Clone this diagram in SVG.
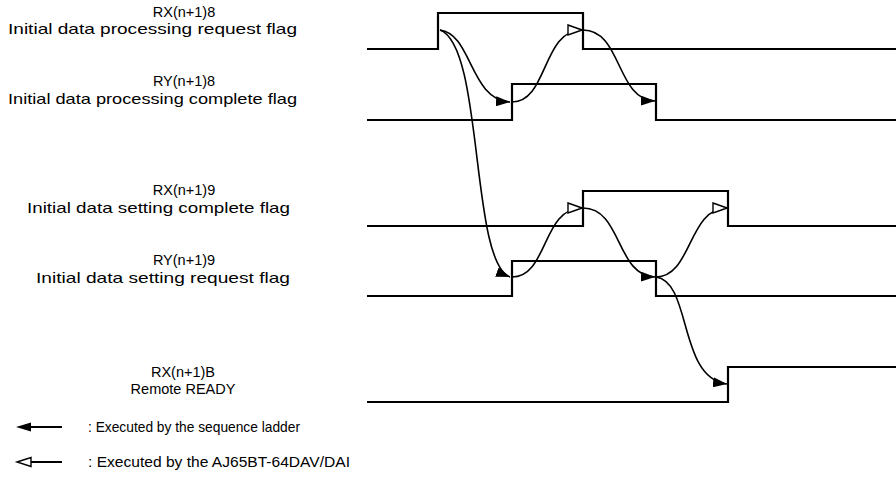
<svg xmlns="http://www.w3.org/2000/svg" width="896" height="501" viewBox="0 0 896 501">
<style>
.t{font-family:"Liberation Sans",Arial,sans-serif;font-size:14.5px;fill:#000;text-anchor:middle}
.w{font-family:"Liberation Sans",Arial,sans-serif;font-size:14.5px;fill:#000}
.l{font-family:"Liberation Sans",Arial,sans-serif;font-size:14.5px;fill:#000}
.sig{fill:none;stroke:#000;stroke-width:2.2}
.c{fill:none;stroke:#000;stroke-width:1.6}
</style>
<defs>
<marker id="s" viewBox="0 0 14 10" refX="14" refY="5" markerWidth="14" markerHeight="10" markerUnits="userSpaceOnUse" orient="auto">
<path d="M0,0 L14,5 L0,10 Z" fill="#000"/>
</marker>
<marker id="o" viewBox="-1 -1 16 12" refX="14" refY="5" markerWidth="16" markerHeight="12" markerUnits="userSpaceOnUse" orient="auto">
<path d="M0,0 L14,5 L0,10 Z" fill="#fff" stroke="#000" stroke-width="1.4"/>
</marker>
</defs>
<g id="label-rx8"><text class="t" x="184" y="17">RX(n+1)8</text><text class="w" x="8" y="34" textLength="289" lengthAdjust="spacingAndGlyphs">Initial data processing request flag</text></g>
<g id="label-ry8"><text class="t" x="184" y="86">RY(n+1)8</text><text class="w" x="8" y="104" textLength="289" lengthAdjust="spacingAndGlyphs">Initial data processing complete flag</text></g>
<g id="label-rx9"><text class="t" x="184" y="195">RX(n+1)9</text><text class="w" x="27" y="213" textLength="263" lengthAdjust="spacingAndGlyphs">Initial data setting complete flag</text></g>
<g id="label-ry9"><text class="t" x="184" y="265">RY(n+1)9</text><text class="w" x="36" y="283" textLength="254" lengthAdjust="spacingAndGlyphs">Initial data setting request flag</text></g>
<g id="label-rxb"><text class="t" x="183" y="377">RX(n+1)B</text><text class="t" x="183" y="394">Remote READY</text></g>
<g id="signals">
<path id="sig-rx8" class="sig" d="M367,49 H438 V13 H583 V49 H896"/>
<path id="sig-ry8" class="sig" d="M367,120 H512 V84 H656 V120 H896"/>
<path id="sig-rx9" class="sig" d="M367,226 H583 V191 H728 V226 H896"/>
<path id="sig-ry9" class="sig" d="M367,296 H512 V261 H656 V296 H896"/>
<path id="sig-rxb" class="sig" d="M367,402 H728 V367 H896"/>
</g>
<g id="connectors">
<path class="c" d="M440,30 C472,34 470,100 510,102" marker-end="url(#s)"/>
<path class="c" d="M512,102 C548,102 542,30 582,30" marker-end="url(#o)"/>
<path class="c" d="M583,30 C622,30 616,100 655,101" marker-end="url(#s)"/>
<path class="c" d="M440,30 C484,46 470,262 510,277" marker-end="url(#s)"/>
<path class="c" d="M512,277 C548,277 542,208 582,208" marker-end="url(#o)"/>
<path class="c" d="M583,208 C622,208 616,276 655,277" marker-end="url(#s)"/>
<path class="c" d="M656,277 C692,277 688,208 727,208" marker-end="url(#o)"/>
<path class="c" d="M656,277 C692,282 678,378 727,384" marker-end="url(#s)"/>
</g>
<g id="legend">
<line x1="30" y1="427" x2="62" y2="427" stroke="#000" stroke-width="2"/>
<path d="M16,427 L31,422.5 L31,431.5 Z" fill="#000"/>
<line x1="31" y1="462" x2="62" y2="462" stroke="#000" stroke-width="2"/>
<path d="M17,462 L31,457.5 L31,466.5 Z" fill="#fff" stroke="#000" stroke-width="1.4"/>
<text class="l" x="88" y="432" textLength="212" lengthAdjust="spacingAndGlyphs">: Executed by the sequence ladder</text>
<text class="l" x="88" y="467" textLength="262" lengthAdjust="spacingAndGlyphs">: Executed by the AJ65BT-64DAV/DAI</text>
</g>
</svg>
